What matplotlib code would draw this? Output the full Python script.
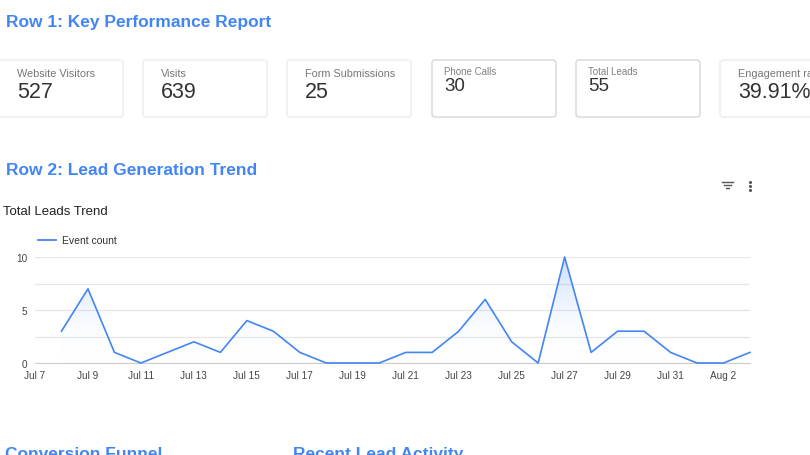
import matplotlib
matplotlib.use("Agg")
import matplotlib.pyplot as plt
import matplotlib.dates as mdates
import numpy as np
import pandas as pd
from matplotlib.patches import FancyBboxPatch, Polygon

plt.rcParams['font.family'] = ['Liberation Sans', 'DejaVu Sans']

# KPI cards
kpi_labels = ["Website Visitors", "Visits", "Form Submissions", "Phone Calls", "Total Leads", "Engagement rate"]
kpi_values = ["527", "639", "25", "30", "55", "39.91%"]

# lead trend (Event count per day)
dates = pd.date_range("2024-07-08", "2024-08-03", freq="D")
event_count = [3, 7, 1, 0, 1, 2, 1, 4, 3, 1, 0, 0, 0, 1, 1, 3, 6, 2, 0, 10, 1, 3, 3, 1, 0, 0, 1]

BLUE = "#4285f4"
W, H = 810, 456

fig = plt.figure(figsize=(W / 100, H / 100), dpi=100)
fig.patch.set_facecolor("white")

# overlay in pixel coordinates
bg = fig.add_axes([0, 0, 1, 1])
bg.set_xlim(0, W)
bg.set_ylim(H, 0)
bg.axis("off")

# section titles
bg.text(6, 27, "Row 1: Key Performance Report", fontsize=12.5, fontweight="bold", color=BLUE, va="baseline")
bg.text(6, 175, "Row 2: Lead Generation Trend", fontsize=12.5, fontweight="bold", color=BLUE, va="baseline")
bg.text(3, 215, "Total Leads Trend", fontsize=9.5, color="#222222", va="baseline")
bg.text(5, 459, "Conversion Funnel", fontsize=12.5, fontweight="bold", color=BLUE, va="baseline")
bg.text(293, 459, "Recent Lead Activity", fontsize=12.5, fontweight="bold", color=BLUE, va="baseline")

# cards
card_x = [-1, 143, 287, 432, 576, 720]
for i, (lab, val) in enumerate(zip(kpi_labels, kpi_values)):
    x0 = card_x[i]
    small = lab in ("Phone Calls", "Total Leads")
    edge = "#d6d6d6" if small else "#ececec"
    bg.add_patch(FancyBboxPatch((x0, 61), 124, 57, boxstyle="round,pad=0,rounding_size=3",
                                fc="white", ec=edge, lw=1.0))
    if small:
        bg.text(x0 + 12, 75, lab, fontsize=7, color="#808080", va="baseline")
        bg.text(x0 + 12, 91, val, fontsize=13.5, color="#333333", va="baseline")
    else:
        bg.text(x0 + 18, 77, lab, fontsize=7.8, color="#777777", va="baseline")
        bg.text(x0 + 18, 98, val, fontsize=15.5, color="#333333", va="baseline")

# small icons (filter + menu)
for w, yy in [(11, 183), (7, 186), (3, 189)]:
    bg.plot([727 - w / 2, 727 + w / 2], [yy, yy], color="#555555", lw=1.0)
bg.scatter([750, 750, 750], [182.5, 186.5, 190.5], s=1.5, color="#555555")

# legend
bg.plot([38, 56], [241, 241], color=BLUE, lw=1.3)
bg.text(62, 244, "Event count", fontsize=7.5, color="#333333", va="baseline")

# line chart
L, R, T, B = 35, 750, 258, 364
ax = fig.add_axes([L / W, 1 - B / H, (R - L) / W, (B - T) / H])
x = mdates.date2num(dates)
y = np.array(event_count, dtype=float)
ax.set_xlim(mdates.date2num(pd.Timestamp("2024-07-07")), x[-1])
ax.set_ylim(0, 10)

ax.plot(x, y, color=BLUE, lw=1.2, zorder=3, clip_on=False)
grad = np.linspace(0.0, 1.0, 256).reshape(-1, 1)
im = ax.imshow(grad, extent=[x[0], x[-1], 0, 10], origin="lower", aspect="auto",
               cmap=matplotlib.colors.LinearSegmentedColormap.from_list(
                   "g", [(1, 1, 1, 0), (0.26, 0.52, 0.96, 0.28)]), zorder=2)
poly = Polygon(np.column_stack([np.r_[x, x[-1], x[0]], np.r_[y, 0, 0]]), closed=True,
               transform=ax.transData, fc="none", ec="none")
ax.add_patch(poly)
im.set_clip_path(poly)

ax.set_yticks([0, 2.5, 5, 7.5, 10])
ax.set_yticklabels(["0", "", "5", "", "10"])
ax.grid(axis="y", color="#e6e6e6", lw=0.9)
ticks = mdates.date2num(pd.date_range("2024-07-07", "2024-08-02", freq="2D"))
ax.set_xticks(ticks)
ax.set_xticklabels([pd.Timestamp(mdates.num2date(t)).strftime("%b %-d") for t in ticks])
ax.tick_params(length=0, labelsize=7.2, colors="#444444", pad=5)
ax.tick_params(axis="y", pad=5.5)
for s in ["top", "right", "left"]:
    ax.spines[s].set_visible(False)
ax.spines["bottom"].set_color("#cccccc")
ax.set_facecolor("none")

fig.savefig("out.png", dpi=100, facecolor="white")
